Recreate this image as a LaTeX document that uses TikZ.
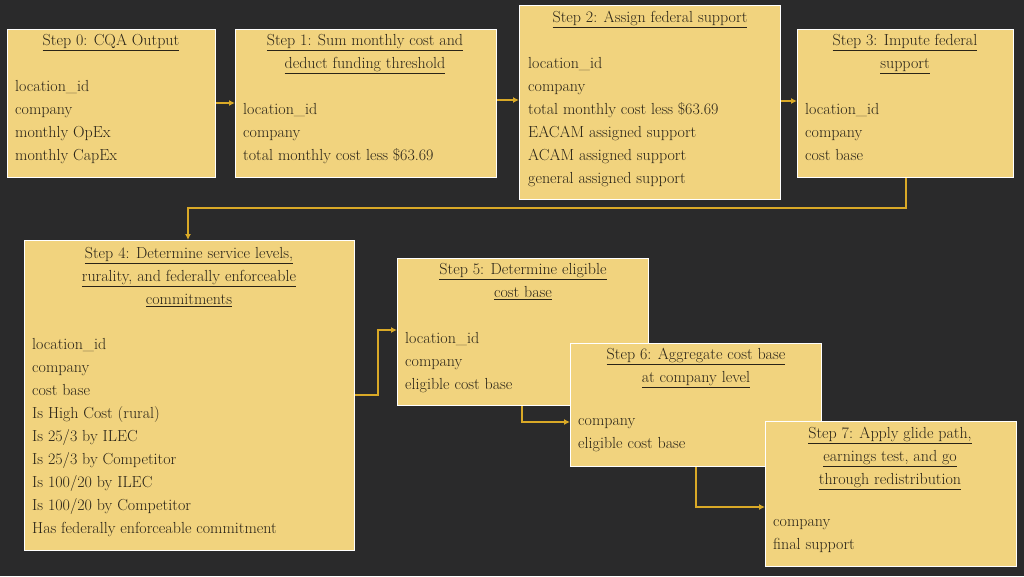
\documentclass[tikz,border=0pt]{standalone}
\usetikzlibrary{arrows.meta}
\definecolor{bg}{HTML}{2A2A2B}
\definecolor{boxfill}{HTML}{F1D37E}
\definecolor{gold}{HTML}{D9A927}
\definecolor{ink}{HTML}{2A2418}
\tikzset{
  x=1pt,y=-1pt,
  stepbox/.style={draw=white,line width=1pt,fill=boxfill,anchor=north west,inner sep=0pt},
  txt/.style={anchor=north west,inner sep=0pt,text=ink,font=\fontsize{16}{23}\selectfont,align=left},
  ttl/.style={anchor=north,inner sep=0pt,text=ink,font=\fontsize{16}{23}\selectfont,align=center},
  conn/.style={draw=gold,line width=1.6pt,-{Latex[length=6pt,width=6pt]}}
}
\newcommand{\bx}[5]{\node[stepbox,minimum width=#3-#1,minimum height=#4-#2] (#5) at (#1,#2) {};}
\begin{document}
\begin{tikzpicture}
\fill[bg] (0,0) rectangle (1024,576);
\useasboundingbox (0,0) rectangle (1024,576);
\bx{7}{29}{215}{177}{b0}
\bx{235}{29}{496}{177}{b1}
\bx{519}{5}{780}{199}{b2}
\bx{797}{29}{1013}{177}{b3}
\bx{24}{240}{354}{550}{b4}
\bx{397}{258}{648}{405}{b5}
\bx{570}{343}{821}{466}{b6}
\bx{765}{421}{1016}{566}{b7}
% titles
\node[ttl] (t0) at (111,34) {\underline{Step 0: CQA Output}};
\node[ttl] (t1) at (365,34) {\underline{Step 1: Sum monthly cost and}\\\underline{deduct funding threshold}};
\node[ttl] (t2) at (650,11) {\underline{Step 2: Assign federal support}};
\node[ttl] (t3) at (905,34) {\underline{Step 3: Impute federal}\\\underline{support}};
\node[ttl] (t4) at (189,247) {\underline{Step 4: Determine service levels,}\\\underline{rurality, and federally enforceable}\\\underline{commitments}};
\node[ttl] (t5) at (523,263) {\underline{Step 5: Determine eligible}\\\underline{cost base}};
\node[ttl] (t6) at (696,348) {\underline{Step 6: Aggregate cost base}\\\underline{at company level}};
\node[ttl] (t7) at (890,427) {\underline{Step 7: Apply glide path,}\\\underline{earnings test, and go}\\\underline{through redistribution}};
% bodies
\node[txt] (l0) at (15,80) {location\_id\\company\\monthly OpEx\\monthly CapEx};
\node[txt] (l1) at (243,103) {location\_id\\company\\total monthly cost less \$63.69};
\node[txt] (l2) at (528,57) {location\_id\\company\\total monthly cost less \$63.69\\EACAM assigned support\\ACAM assigned support\\general assigned support};
\node[txt] (l3) at (805,103) {location\_id\\company\\cost base};
\node[txt] (l4) at (32,338) {location\_id\\company\\cost base\\Is High Cost (rural)\\Is 25/3 by ILEC\\Is 25/3 by Competitor\\Is 100/20 by ILEC\\Is 100/20 by Competitor\\Has federally enforceable commitment};
\node[txt] (l5) at (405,332) {location\_id\\company\\eligible cost base};
\node[txt] (l6) at (578,418) {company\\eligible cost base};
\node[txt] (l7) at (773,519) {company\\final support};
% connectors
\draw[conn] (b0.east |- 0,103) -- (b1.west |- 0,103);
\draw[conn] (b1.east |- 0,100) -- (b2.west |- 0,100);
\draw[conn] (b2.east |- 0,101) -- (b3.west |- 0,101);
\draw[conn] (b3.south -| 906,0) -- (906,208) -- (188,208) -- (b4.north -| 188,0);
\draw[conn] (b4.east |- 0,395) -- (378,395) -- (378,330) -- (b5.west |- 0,330);
\draw[conn] (b5.south -| 522,0) -- (522,422) -- (b6.west |- 0,422);
\draw[conn] (b6.south -| 696,0) -- (696,507) -- (b7.west |- 0,507);
\end{tikzpicture}
\end{document}
